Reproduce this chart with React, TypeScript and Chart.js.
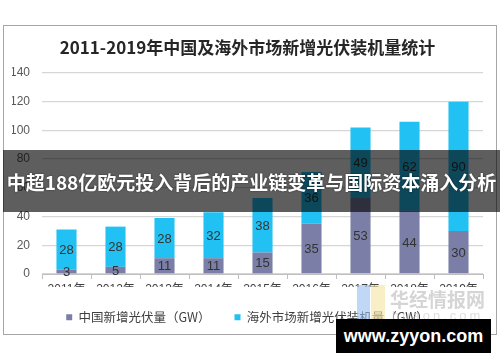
import React, { useEffect, useRef } from "react";
import { Chart, registerables } from "chart.js";

Chart.register(...registerables);

const chartTitle = "2011-2019年中国及海外市场新增光伏装机量统计";
const bannerText = "中超188亿欧元投入背后的产业链变革与国际资本涌入分析";
const years = ["2011年", "2012年", "2013年", "2014年", "2015年", "2016年", "2017年", "2018年", "2019年"];
const chinaNew = [3, 5, 11, 11, 15, 35, 53, 44, 30];
const overseasNew = [28, 28, 28, 32, 38, 36, 49, 62, 90];
const seriesNames = ["中国新增光伏量（GW）", "海外市场新增光伏装机量（GW）"];
const yMax = 140;
const yStep = 20;

const CJK = "'Noto Sans CJK SC', 'Liberation Sans', sans-serif";
const SANS = "'Liberation Sans', Arial, 'Noto Sans CJK SC', sans-serif";

const segLabels = {
  id: "segLabels",
  afterDatasetsDraw(chart: any) {
    const ctx = chart.ctx;
    ctx.save();
    ctx.font = "13px " + SANS;
    ctx.fillStyle = "#333333";
    ctx.textAlign = "center";
    ctx.textBaseline = "middle";
    chart.data.datasets.forEach((ds: any, i: number) => {
      const meta = chart.getDatasetMeta(i);
      meta.data.forEach((el: any, j: number) => {
        const p = el.getProps(["x", "y", "base"], true);
        ctx.fillText(String(ds.data[j]), p.x, (p.y + p.base) / 2 + 1);
      });
    });
    ctx.restore();
  },
};

export default function App() {
  const ref = useRef<HTMLCanvasElement | null>(null);

  useEffect(() => {
    if (!ref.current) return;
    const chart = new Chart(ref.current, {
      type: "bar",
      data: {
        labels: years,
        datasets: [
          {
            label: seriesNames[0],
            data: chinaNew,
            backgroundColor: "#7b7fa7",
            barPercentage: 0.41,
            categoryPercentage: 1,
          },
          {
            label: seriesNames[1],
            data: overseasNew,
            backgroundColor: "#22c1f3",
            barPercentage: 0.41,
            categoryPercentage: 1,
          },
        ],
      },
      plugins: [segLabels],
      options: {
        responsive: false,
        animation: false,
        layout: { padding: { left: 12, right: 17, top: 0, bottom: 28.5 } },
        plugins: {
          title: {
            display: true,
            text: chartTitle,
            color: "#262626",
            font: { family: CJK, size: 17, weight: "bold", lineHeight: 1.2 },
            padding: { top: 37, bottom: 15.6 },
          },
          legend: {
            position: "bottom",
            labels: {
              boxWidth: 6,
              boxHeight: 6,
              padding: 24,
              color: "#404040",
              font: { family: CJK, size: 12.5 },
            },
          },
          tooltip: { enabled: false },
        },
        scales: {
          x: {
            stacked: true,
            grid: { drawOnChartArea: false, drawTicks: true, tickLength: 5, color: "#bfbfbf" },
            border: { color: "#bfbfbf" },
            ticks: { color: "#404040", padding: 3, font: { family: SANS, size: 12 } },
            afterFit: (s: any) => {
              s.height = 13;
            },
          },
          y: {
            stacked: true,
            min: 0,
            max: yMax,
            ticks: { stepSize: yStep, color: "#595959", padding: 12, font: { family: SANS, size: 12 } },
            grid: { color: "#d6d6d6", drawTicks: false, lineWidth: 1.3 },
            border: { display: false },
            afterFit: (s: any) => {
              s.width = 30;
            },
          },
        },
      } as any,
    });
    return () => chart.destroy();
  }, []);

  return (
    <div
      style={{
        position: "fixed",
        left: 0,
        top: 0,
        width: 500,
        height: 362,
        background: "#ffffff",
        overflow: "hidden",
      }}
    >
      <div
        style={{
          position: "absolute",
          left: 3,
          top: 25,
          width: 494,
          height: 310,
          border: "1px solid #a6a6a6",
          boxSizing: "border-box",
        }}
      />
      <canvas ref={ref} width={500} height={362} style={{ position: "absolute", left: 0, top: 0 }} />
      <div
        style={{
          position: "absolute",
          left: 357,
          top: 285,
          width: 13,
          height: 40,
          background: "rgba(150,190,240,0.6)",
        }}
      />
      <div
        style={{
          position: "absolute",
          left: 371,
          top: 285,
          width: 14,
          height: 40,
          background: "rgba(245,228,160,0.6)",
        }}
      />
      <div
        style={{
          position: "absolute",
          left: 390,
          top: 288,
          fontFamily: CJK,
          fontWeight: 700,
          fontSize: 19,
          color: "rgba(195,195,195,0.7)",
          whiteSpace: "nowrap",
          lineHeight: "22px",
        }}
      >
        华经情报网
      </div>
      <div
        style={{
          position: "absolute",
          left: 392,
          top: 309,
          fontFamily: SANS,
          fontSize: 13,
          letterSpacing: 3,
          color: "rgba(205,205,205,0.65)",
          whiteSpace: "nowrap",
          lineHeight: "14px",
        }}
      >
        huaon.com
      </div>
      <div
        style={{
          position: "absolute",
          left: 3,
          top: 150,
          width: 497,
          height: 62,
          background: "rgba(0,0,0,0.63)",
          display: "flex",
          alignItems: "center",
          justifyContent: "center",
        }}
      >
        <span
          style={{
            fontFamily: CJK,
            fontWeight: 700,
            fontSize: 19,
            color: "#ffffff",
            whiteSpace: "nowrap",
            textShadow: "0 0 2px rgba(0,0,0,0.6)",
          }}
        >
          {bannerText}
        </span>
      </div>
      <div
        style={{
          position: "absolute",
          left: 336,
          top: 319,
          width: 155,
          height: 34,
          background: "#000000",
          display: "flex",
          alignItems: "center",
          justifyContent: "center",
        }}
      >
        <span
          style={{
            fontFamily: SANS,
            fontWeight: 700,
            fontSize: 18,
            color: "#ffffff",
            whiteSpace: "nowrap",
          }}
        >
          www.zyyon.com
        </span>
      </div>
    </div>
  );
}
